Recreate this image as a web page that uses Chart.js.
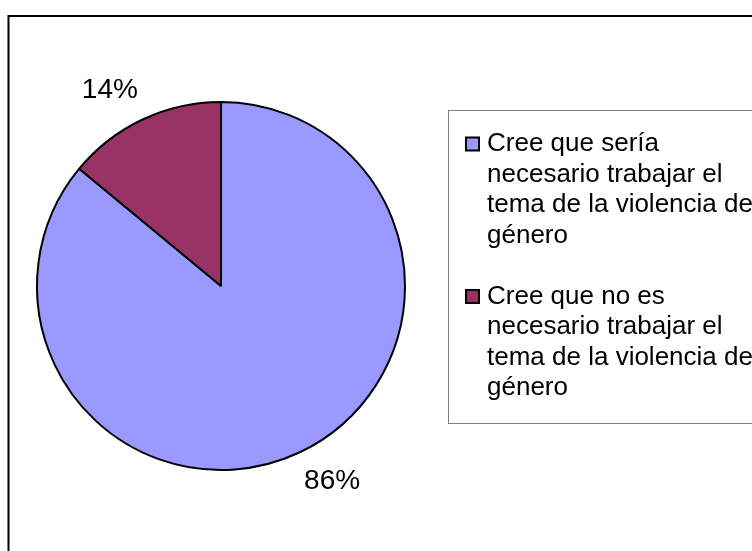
<!DOCTYPE html>
<html>
<head>
<meta charset="utf-8">
<script src="https://cdn.jsdelivr.net/npm/chart.js@4.4.1/dist/chart.umd.min.js"></script>
<style>
  html, body { margin: 0; padding: 0; background: #fff; }
  canvas { display: block; }
</style>
</head>
<body>
<canvas id="pieChart" width="752" height="551"></canvas>
<script>
// Chart data
const categories = [
    ['Cree que sería', 'necesario trabajar el', 'tema de la violencia de', 'género'],
    ['Cree que no es', 'necesario trabajar el', 'tema de la violencia de', 'género']
];
const percentages = [86, 14];
const sliceColors = ['#9999FF', '#993366'];

const FONT = '"Liberation Sans", Arial, sans-serif';

/**
 * Frame around the whole chart (clipped on right and bottom like the original)
 */
const framePlugin = {
    id: 'frame',
    beforeDraw(chart) {
        const ctx = chart.ctx;
        ctx.save();
        ctx.fillStyle = '#fff';
        ctx.fillRect(0, 0, chart.width, chart.height);
        ctx.strokeStyle = '#000';
        ctx.lineWidth = 2;
        ctx.strokeRect(8.5, 16, chart.width + 20, chart.height + 20);
        ctx.restore();
    }
};

/**
 * Percent labels outside each slice
 */
const percentLabels = {
    id: 'percentLabels',
    afterDatasetsDraw(chart, args, opts) {
        const ctx = chart.ctx;
        const meta = chart.getDatasetMeta(0);
        const values = chart.data.datasets[0].data;
        const total = values.reduce((a, b) => a + b, 0);
        ctx.save();
        ctx.font = opts.fontSize + 'px ' + FONT;
        ctx.fillStyle = '#000';
        ctx.textAlign = 'center';
        ctx.textBaseline = 'middle';
        meta.data.forEach((arc, i) => {
            const p = arc.getProps(['x', 'y', 'startAngle', 'endAngle', 'outerRadius'], true);
            const mid = (p.startAngle + p.endAngle) / 2 + opts.angleShift * Math.PI / 180;
            const dist = p.outerRadius + opts.distance;
            const tx = p.x + Math.cos(mid) * dist;
            const ty = p.y + Math.sin(mid) * dist;
            ctx.fillText(Math.round(values[i] / total * 100) + '%', tx, ty);
        });
        ctx.restore();
    }
};

/**
 * Legend box on the right with wrapped labels
 */
const boxLegend = {
    id: 'boxLegend',
    afterDraw(chart, args, opts) {
        const ctx = chart.ctx;
        const ds = chart.data.datasets[0];
        ctx.save();
        // legend frame
        ctx.strokeStyle = '#808080';
        ctx.lineWidth = 1;
        ctx.strokeRect(opts.left + 0.5, opts.top + 0.5, chart.width, opts.height);

        ctx.font = opts.fontSize + 'px ' + FONT;
        ctx.textBaseline = 'middle';
        ctx.textAlign = 'left';
        let y = opts.firstLine;
        chart.data.labels.forEach((lines, i) => {
            // marker
            ctx.fillStyle = ds.backgroundColor[i];
            ctx.fillRect(opts.markerX, y - 6.5, 13, 13);
            ctx.strokeStyle = '#000';
            ctx.lineWidth = 2;
            ctx.strokeRect(opts.markerX, y - 6.5, 13, 13);
            ctx.fillStyle = '#000';
            lines.forEach(line => {
                ctx.fillText(line, opts.textX, y);
                y += opts.lineHeight;
            });
            y += opts.lineHeight; // blank line between entries
        });
        ctx.restore();
    }
};

const ctx = document.getElementById('pieChart');
new Chart(ctx, {
    type: 'pie',
    data: {
        labels: categories,
        datasets: [{
            data: percentages,
            backgroundColor: sliceColors,
            borderColor: '#000',
            borderWidth: 2
        }]
    },
    options: {
        responsive: false,
        animation: false,
        layout: {
            padding: { left: 36, top: 101, right: 346, bottom: 80 }
        },
        plugins: {
            legend: { display: false },
            tooltip: { enabled: false },
            percentLabels: { fontSize: 28, distance: 41, angleShift: -4.4 },
            boxLegend: {
                left: 448, top: 110, height: 313,
                fontSize: 26, lineHeight: 30.5,
                firstLine: 144, markerX: 466, textX: 487
            }
        }
    },
    plugins: [framePlugin, percentLabels, boxLegend]
});
</script>
</body>
</html>
